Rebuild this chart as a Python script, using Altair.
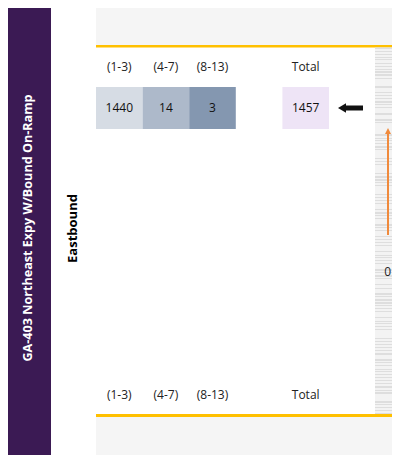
import altair as alt
import pandas as pd

# ---- data ----
categories = ["(1-3)", "(4-7)", "(8-13)", "Total"]
counts = [1440, 14, 3, 1457]
cell_colors = ["#D6DCE4", "#ADB9CA", "#8497B0", "#EEE4F6"]
band_domain = ["(1-3)", "(4-7)", "(8-13)", " ", "Total"]
title_text = "GA-403 Northeast Expy W/Bound On-Ramp"
direction_text = "Eastbound"
side_value = ["0"]

df = pd.DataFrame({"cat": categories, "value": counts})
one = pd.DataFrame({"k": [0]})

FONT = "Open Sans"
W, H = 384, 447

xscale = alt.Scale(domain=band_domain, range=[88, 321], paddingInner=0, paddingOuter=0)
xenc = alt.X("cat:N", scale=xscale, axis=None)

# ---- decorations ----
purple = alt.Chart(one).mark_rect(fill="#3B1A54").encode(
    x=alt.value(0), x2=alt.value(43), y=alt.value(0), y2=alt.value(H))
top_band = alt.Chart(one).mark_rect(fill="#F5F5F5").encode(
    x=alt.value(88), x2=alt.value(W), y=alt.value(0), y2=alt.value(37))
top_line = alt.Chart(one).mark_rect(fill="#FFC000").encode(
    x=alt.value(88), x2=alt.value(W), y=alt.value(37), y2=alt.value(39.5))
bot_line = alt.Chart(one).mark_rect(fill="#FFC000").encode(
    x=alt.value(88), x2=alt.value(W), y=alt.value(406), y2=alt.value(409))
bot_band = alt.Chart(one).mark_rect(fill="#F5F5F5").encode(
    x=alt.value(88), x2=alt.value(W), y=alt.value(409), y2=alt.value(H))

stripe_top, stripe_bot = 39.5, 406
sh = stripe_bot - stripe_top
stops = []
period = 3.0
n = int(sh // period) + 1
for i in range(n):
    a = min(i * period / sh, 1)
    b = min((i * period + 1) / sh, 1)
    c = min((i + 1) * period / sh, 1)
    stops += [alt.GradientStop(offset=a, color="#DEDEDE"),
              alt.GradientStop(offset=b, color="#DEDEDE"),
              alt.GradientStop(offset=b, color="#F3F3F3"),
              alt.GradientStop(offset=c, color="#F3F3F3")]
stripes = alt.Chart(one).mark_rect(
    fill=alt.LinearGradient(gradient="linear", x1=0, y1=0, x2=0, y2=1, stops=stops)
).encode(x=alt.value(367), x2=alt.value(W), y=alt.value(stripe_top), y2=alt.value(stripe_bot))

title = alt.Chart(one).mark_text(
    text=title_text, angle=270, font=FONT, fontWeight="bold", fontSize=12.6,
    color="white", align="center", baseline="middle"
).encode(x=alt.value(20), y=alt.value(220))
direction = alt.Chart(one).mark_text(
    text=direction_text, angle=270, font=FONT, fontWeight="bold", fontSize=13,
    color="black", align="center", baseline="middle"
).encode(x=alt.value(65), y=alt.value(220.5))

# ---- table ----
cells = alt.Chart(df).mark_rect().encode(
    x=xenc, y=alt.value(79), y2=alt.value(121),
    color=alt.Color("cat:N", scale=alt.Scale(domain=categories, range=cell_colors), legend=None))
cell_text = alt.Chart(df).mark_text(font=FONT, fontSize=12, color="#111111", baseline="middle").encode(
    x=xenc, y=alt.value(100), text="value:Q")
head_top = alt.Chart(df).mark_text(font=FONT, fontSize=12, color="#222222", baseline="middle").encode(
    x=xenc, y=alt.value(59), text="cat:N")
head_bot = alt.Chart(df).mark_text(font=FONT, fontSize=12, color="#222222", baseline="middle").encode(
    x=xenc, y=alt.value(387), text="cat:N")

# ---- arrows ----
black_shaft = alt.Chart(one).mark_rule(color="#111111", strokeWidth=5).encode(
    x=alt.value(336), x2=alt.value(355), y=alt.value(100))
black_head = alt.Chart(one).mark_point(
    shape="M1,-1.2L-1,0L1,1.2Z", filled=True, fill="#111111", opacity=1, size=64, strokeWidth=0
).encode(x=alt.value(334), y=alt.value(100))
orange_shaft = alt.Chart(one).mark_rule(color="#F08A3C", strokeWidth=2).encode(
    x=alt.value(380), y=alt.value(124), y2=alt.value(227))
orange_head = alt.Chart(one).mark_point(
    shape="M0,-1L1,1L-1,1Z", filled=True, fill="#F08A3C", opacity=1, size=36, strokeWidth=0
).encode(x=alt.value(380), y=alt.value(123))
zero = alt.Chart(pd.DataFrame({"t": side_value})).mark_text(
    font=FONT, fontSize=12, color="#222222", align="right", baseline="middle"
).encode(x=alt.value(383), y=alt.value(264), text="t:N")

chart = alt.layer(
    purple, top_band, top_line, bot_line, bot_band, stripes,
    title, direction, cells, cell_text, head_top, head_bot,
    black_shaft, black_head, orange_shaft, orange_head, zero
).properties(
    width=W, height=H, autosize=alt.AutoSizeParams(type="none"), padding=0,
    background="white"
).configure_view(stroke=None)

chart.save("out.html", embed_options={"renderer": "svg", "actions": False})
